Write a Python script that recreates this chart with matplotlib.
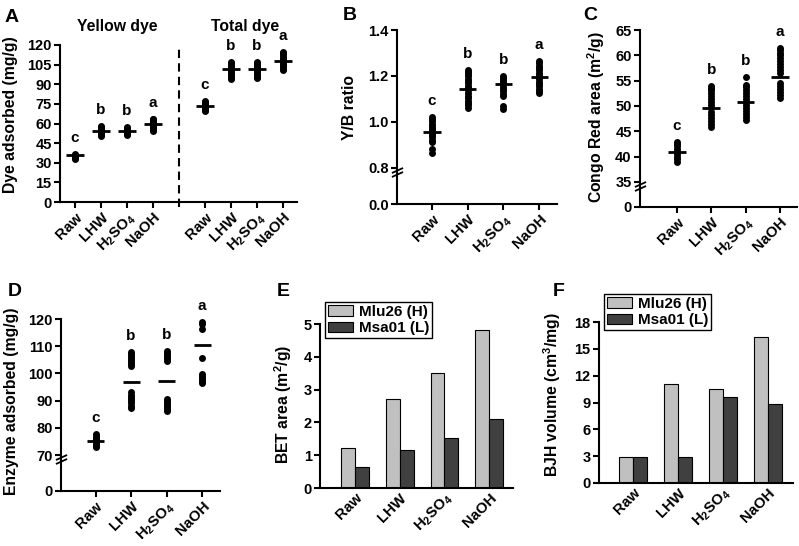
import numpy as np
import matplotlib
matplotlib.use('Agg')
import matplotlib.pyplot as plt

plt.rcParams['font.family'] = ['Liberation Sans', 'DejaVu Sans']
plt.rcParams['font.weight'] = 'bold'
plt.rcParams['axes.labelweight'] = 'bold'
plt.rcParams['mathtext.default'] = 'regular'
plt.rcParams['axes.linewidth'] = 1.5

W, H = 799, 546

treatments = ['Raw', 'LHW', r'H$_2$SO$_4$', 'NaOH']
letters = ['c', 'b', 'b', 'a']

# A - dye adsorbed (mg/g)
yellow_raw = [32.9, 33.5, 34.1, 34.7, 35.3, 35.8, 36.2, 36.6]
yellow_lhw = [50.6, 51.3, 52.0, 52.7, 53.4, 54.1, 54.8, 55.5, 56.2, 56.9, 57.6, 58.3]
yellow_h2so4 = [51.1, 51.8, 52.5, 53.2, 53.9, 54.6, 55.3, 56.0, 56.5, 57.0]
yellow_naoh = [54.4, 55.2, 56.0, 56.8, 57.6, 58.4, 59.2, 60.0, 60.8, 61.6, 62.4, 63.1, 63.8]
yellow_means = [35.7, 54.5, 54.5, 59.4]
total_raw = [69.7, 70.6, 71.5, 72.4, 73.3, 74.2, 75.1, 76.0, 76.8, 77.4]
total_lhw = [93.9, 95.1, 96.3, 97.5, 98.7, 99.9, 101.1, 102.3, 103.5, 104.7, 105.9, 107.2]
total_h2so4 = [94.6, 95.8, 97.0, 98.2, 99.4, 100.6, 101.8, 103.0, 104.2, 105.4, 106.4, 107.2]
total_naoh = [100.8, 102.0, 103.2, 104.4, 105.6, 106.8, 108.0, 109.2, 110.4, 111.6, 112.8, 114.0, 114.8]
total_means = [73.4, 101.7, 101.7, 108.0]

# B - Y/B ratio
yb_raw = [0.863, 0.884, 0.913, 0.923, 0.933, 0.943, 0.953, 0.963, 0.973, 0.983, 0.993, 1.003, 1.012, 1.02]
yb_lhw = [1.062, 1.072, 1.082, 1.092, 1.102, 1.112, 1.128, 1.138, 1.148, 1.158, 1.168, 1.178, 1.188, 1.198,
          1.208, 1.217, 1.226]
yb_h2so4 = [1.055, 1.069, 1.113, 1.123, 1.133, 1.143, 1.153, 1.163, 1.173, 1.183, 1.192, 1.20]
yb_naoh = [1.125, 1.135, 1.145, 1.155, 1.165, 1.175, 1.185, 1.195, 1.205, 1.215, 1.225, 1.235, 1.245,
           1.255, 1.266]
yb_means = [0.957, 1.143, 1.165, 1.195]

# C - Congo Red area (m2/g)
cr_raw = [39.0, 39.5, 40.0, 40.5, 41.0, 41.5, 42.0, 42.5, 42.9]
cr_lhw = [45.9, 46.5, 47.1, 47.7, 48.3, 48.9, 49.5, 50.1, 50.7, 51.3, 51.9, 52.5, 53.1, 53.6, 54.0]
cr_h2so4 = [47.2, 47.8, 48.4, 49.0, 49.6, 50.2, 50.8, 51.4, 52.0, 52.6, 53.2, 53.7, 54.1, 55.7]
cr_naoh = [51.5, 52.1, 52.7, 53.3, 53.9, 54.5, 56.5, 57.1, 57.7, 58.3, 58.9, 59.5, 60.1, 60.5, 61.0, 61.5]
cr_means = [41.0, 49.5, 50.7, 55.65]

# D - enzyme adsorbed (mg/g)
enz_raw = [72.8, 73.4, 74.0, 74.6, 75.2, 75.8, 76.4, 77.0, 77.7]
enz_lhw = [87.4, 88.2, 89.0, 89.8, 90.6, 91.4, 92.2, 93.0, 102.8, 103.5, 104.2, 104.9, 105.6, 106.3,
           107.0, 107.7]
enz_h2so4 = [86.2, 86.9, 87.6, 88.3, 89.0, 89.7, 90.5, 104.6, 105.3, 106.0, 106.7, 107.4, 108.3]
enz_naoh = [96.6, 97.2, 97.8, 98.4, 99.0, 99.7, 105.5, 116.2, 118.3, 119.0]
enz_means = [75.3, 96.9, 97.3, 110.4]

# E / F - bars
bet_mlu26 = [1.22, 2.71, 3.51, 4.81]
bet_msa01 = [0.63, 1.16, 1.52, 2.10]
bjh_mlu26 = [2.95, 11.1, 10.5, 16.3]
bjh_msa01 = [2.95, 2.9, 9.65, 8.83]
series_names = ['Mlu26 (H)', 'Msa01 (L)']

LABEL_FS = 11.3
TICK_Y_FS = 10.5
TICK_X_FS = 10.8


def px_axes(fig, left, top, right, bottom):
    return fig.add_axes([left / W, 1 - bottom / H, (right - left) / W, (bottom - top) / H])


def style(ax, xticks=True):
    ax.spines['top'].set_visible(False)
    ax.spines['right'].set_visible(False)
    ax.tick_params(axis='y', direction='out', length=4, width=1.5, labelsize=TICK_Y_FS, pad=2)
    ax.tick_params(axis='x', direction='out', length=4 if xticks else 0,
                   width=1.5, labelsize=TICK_X_FS, pad=2)


def set_xlabels(ax, pos, labels):
    ax.set_xticks(pos)
    ax.set_xticklabels(labels, rotation=45, ha='right', rotation_mode='anchor')


def broken_scale(brk, gap):
    k = gap / brk

    def fwd(y):
        y = np.asarray(y, float)
        return np.where(y >= brk, y - brk + gap, y * k)

    def inv(v):
        v = np.asarray(v, float)
        return np.where(v >= gap, v + brk - gap, v / k)
    return fwd, inv


def break_marks(ax, brk, gap, top):
    fb = gap / (top - brk + gap)
    for dy in (-0.012, -0.035):
        ax.plot([0], [fb + dy], transform=ax.transAxes, marker=[(-1, -0.45), (1, 0.45)],
                ms=8, mew=1.3, color='k', ls='none', clip_on=False, zorder=5)


def dots(ax, groups, means, pos, hw):
    for p, vals, m, let in zip(pos, groups, means, letters):
        ax.plot(np.full(len(vals), p), vals, 'o', ms=5, color='k', mew=0, clip_on=False)
        ax.hlines(m, p - hw, p + hw, color='k', lw=2)
        ax.annotate(let, (p, max(vals)), xytext=(0, 6.5), textcoords='offset points',
                    ha='center', va='bottom', fontsize=11, fontweight='bold')


fig = plt.figure(figsize=(W / 100, H / 100), dpi=100)

# ---- A
ax = px_axes(fig, 60, 45, 297, 202)
style(ax)
dots(ax, [yellow_raw, yellow_lhw, yellow_h2so4, yellow_naoh], yellow_means, [0, 1, 2, 3], 0.33)
dots(ax, [total_raw, total_lhw, total_h2so4, total_naoh], total_means, [5, 6, 7, 8], 0.33)
ax.axvline(4, ymin=-0.03, ymax=1, color='k', lw=1.5, ls=(0, (4, 2.5)), clip_on=False)
ax.set_xlim(-0.58, 8.54)
ax.set_ylim(0, 120)
ax.set_yticks(np.arange(0, 121, 15))
set_xlabels(ax, [0, 1, 2, 3, 5, 6, 7, 8], treatments * 2)
fig.text(117 / W, 1 - 27 / H, 'Yellow dye', ha='center', va='center', fontsize=LABEL_FS)
fig.text(245 / W, 1 - 27 / H, 'Total dye', ha='center', va='center', fontsize=LABEL_FS)
fig.text(11 / W, 1 - 115 / H, 'Dye adsorbed (mg/g)', rotation=90, ha='center', va='center', fontsize=LABEL_FS)

# ---- B
ax = px_axes(fig, 397, 30, 557, 204)
style(ax)
ax.set_yscale('function', functions=broken_scale(0.8, 0.157))
dots(ax, [yb_raw, yb_lhw, yb_h2so4, yb_naoh], yb_means, [0, 1, 2, 3], 0.24)
ax.set_xlim(-0.98, 3.5)
ax.set_ylim(0, 1.4)
ax.set_yticks([0, 0.8, 1.0, 1.2, 1.4])
ax.set_yticklabels(['0.0', '0.8', '1.0', '1.2', '1.4'])
ax.yaxis.set_minor_locator(matplotlib.ticker.NullLocator())
break_marks(ax, 0.8, 0.157, 1.4)
set_xlabels(ax, [0, 1, 2, 3], treatments)
fig.text(350 / W, 1 - 108 / H, 'Y/B ratio', rotation=90, ha='center', va='center', fontsize=LABEL_FS)

# ---- C
ax = px_axes(fig, 640, 30, 797, 207)
style(ax)
ax.set_yscale('function', functions=broken_scale(35, 4.95))
dots(ax, [cr_raw, cr_lhw, cr_h2so4, cr_naoh], cr_means, [0, 1, 2, 3], 0.26)
ax.set_xlim(-1.08, 3.5)
ax.set_ylim(0, 65)
ax.set_yticks([0, 35, 40, 45, 50, 55, 60, 65])
ax.yaxis.set_minor_locator(matplotlib.ticker.NullLocator())
break_marks(ax, 35, 4.95, 65)
set_xlabels(ax, [0, 1, 2, 3], treatments)
fig.text(596 / W, 1 - 117 / H, 'Congo Red area (m$^2$/g)', rotation=90, ha='center', va='center',
         fontsize=LABEL_FS)

# ---- D
ax = px_axes(fig, 61, 319, 220, 491)
style(ax)
ax.set_yscale('function', functions=broken_scale(70, 13.2))
dots(ax, [enz_raw, enz_lhw, enz_h2so4, enz_naoh], enz_means, [0, 1, 2, 3], 0.24)
ax.set_xlim(-0.97, 3.5)
ax.set_ylim(0, 120)
ax.set_yticks([0, 70, 80, 90, 100, 110, 120])
ax.yaxis.set_minor_locator(matplotlib.ticker.NullLocator())
break_marks(ax, 70, 13.2, 120)
set_xlabels(ax, [0, 1, 2, 3], treatments)
fig.text(12 / W, 1 - 401 / H, 'Enzyme adsorbed (mg/g)', rotation=90, ha='center', va='center',
         fontsize=LABEL_FS)


def bars(ax, mlu, msa, bw, ylim, yticks, legend_xy):
    x = np.arange(len(mlu))
    b1 = ax.bar(x - bw / 2, mlu, bw, color='#c0c0c0', edgecolor='k', lw=0.8, label=series_names[0])
    b2 = ax.bar(x + bw / 2, msa, bw, color='#404040', edgecolor='k', lw=0.8, label=series_names[1])
    ax.set_ylim(*ylim)
    ax.set_yticks(yticks)
    set_xlabels(ax, x, treatments)
    fig.legend([b1, b2], series_names, loc='upper left',
               bbox_to_anchor=(legend_xy[0] / W, 1 - legend_xy[1] / H),
               fancybox=False, edgecolor='k', framealpha=1, fontsize=11,
               borderpad=0.2, labelspacing=0.15, handlelength=1.6, handleheight=0.7,
               handletextpad=0.4, borderaxespad=0).get_frame().set_linewidth(1.0)


# ---- E
ax = px_axes(fig, 320, 324, 513, 488)
style(ax, xticks=False)
bars(ax, bet_mlu26, bet_msa01, 0.31, (0, 5), np.arange(0, 6, 1), (325, 302))
ax.set_xlim(-0.78, 3.53)
fig.text(283 / W, 1 - 404 / H, 'BET area (m$^2$/g)', rotation=90, ha='center', va='center', fontsize=LABEL_FS)

# ---- F
ax = px_axes(fig, 599, 322, 793, 483)
style(ax, xticks=False)
bars(ax, bjh_mlu26, bjh_msa01, 0.31, (0, 18), np.arange(0, 19, 3), (604, 294))
ax.set_xlim(-0.76, 3.56)
fig.text(552 / W, 1 - 395 / H, 'BJH volume (cm$^3$/mg)', rotation=90, ha='center', va='center',
         fontsize=LABEL_FS)

# panel letters
for let, x, y in [('A', 5, 18), ('B', 343, 16), ('C', 583, 16),
                  ('D', 8, 291), ('E', 277, 291), ('F', 553, 291)]:
    fig.text(x / W, 1 - y / H, let, ha='left', va='center', fontsize=14, fontweight='bold')

fig.savefig('out.png', dpi=100)
